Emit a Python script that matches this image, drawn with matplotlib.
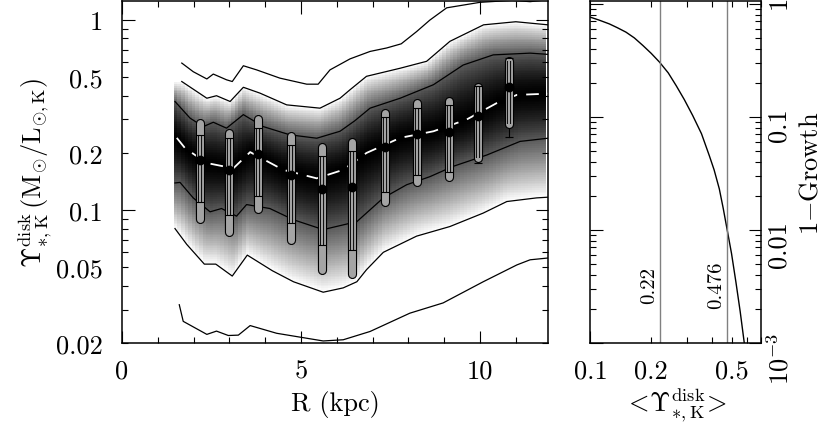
import numpy as np
import matplotlib.pyplot as plt
from matplotlib.ticker import FixedLocator, FuncFormatter, NullFormatter

plt.rcParams['font.family'] = 'serif'
plt.rcParams['font.serif'] = ['cmr10']
plt.rcParams['mathtext.fontset'] = 'cm'
plt.rcParams['axes.unicode_minus'] = False
plt.rcParams['axes.formatter.use_mathtext'] = True

# ---- contour curves of the M/L distribution vs radius
r_u3 = [1.67, 1.99, 2.37, 2.55, 2.92, 3.08, 3.39, 3.76, 4.41, 5.16, 5.48, 5.81, 6.37, 6.93,
        7.39, 7.8, 8.23, 8.6, 9.07, 10.0, 10.9, 11.4, 11.9]
u3 = [0.594, 0.535, 0.49, 0.52, 0.485, 0.475, 0.575, 0.547, 0.495, 0.46, 0.46, 0.547, 0.625,
      0.684, 0.713, 0.75, 0.87, 1.0, 1.16, 1.24, 1.27, 1.25, 1.28]

r_u2 = [1.67, 2.37, 2.64, 3.02, 3.39, 3.85, 4.6, 5.53, 6.09, 6.37, 6.83, 7.77, 8.51, 9.16,
        10.1, 11.0, 11.9]
u2 = [0.475, 0.388, 0.40, 0.373, 0.443, 0.413, 0.358, 0.344, 0.388, 0.43, 0.506, 0.558,
      0.607, 0.773, 0.944, 0.98, 0.944]

r_u1 = [1.48, 1.9, 2.27, 2.55, 2.92, 3.39, 3.95, 4.69, 5.44, 6.09, 6.5, 6.93, 7.77, 8.7,
        9.53, 10.37, 11.4, 11.9]
u1 = [0.373, 0.305, 0.275, 0.29, 0.27, 0.318, 0.275, 0.249, 0.239, 0.26, 0.295, 0.344,
      0.388, 0.457, 0.58, 0.656, 0.67, 0.66]

r_med = [1.53, 1.76, 2.37, 3.11, 3.58, 4.5, 5.44, 6.18, 6.83, 7.77, 8.7, 9.63, 10.47,
         11.03, 11.9]
med = [0.24, 0.212, 0.177, 0.166, 0.202, 0.163, 0.147, 0.163, 0.2, 0.24, 0.26, 0.3,
       0.366, 0.404, 0.41]

r_l1 = [1.48, 1.62, 1.99, 2.46, 2.78, 3.2, 3.48, 4.13, 4.79, 5.62, 6.56, 7.3, 7.95, 8.6,
        9.25, 10.19, 11.12, 11.9]
l1 = [0.139, 0.14, 0.116, 0.098, 0.102, 0.093, 0.107, 0.102, 0.089, 0.079, 0.087, 0.116,
      0.136, 0.15, 0.17, 0.195, 0.23, 0.239]

r_l2 = [1.48, 1.81, 2.3, 2.62, 3.08, 3.5, 4.2, 4.79, 5.62, 6.18, 6.56, 6.83, 7.3, 8.23,
        9.16, 10.09, 10.75, 11.58, 11.9]
l2 = [0.08, 0.066, 0.052, 0.052, 0.045, 0.058, 0.048, 0.042, 0.037, 0.039, 0.042, 0.0486,
      0.06, 0.073, 0.082, 0.0965, 0.111, 0.116, 0.117]

r_l3 = [1.6, 1.71, 2.37, 2.64, 2.97, 3.25, 3.58, 4.32, 5.62, 6.18, 6.93, 8.04, 8.97,
        10.09, 11.03, 11.4, 11.9]
l3 = [0.0318, 0.026, 0.0222, 0.0231, 0.0219, 0.022, 0.0247, 0.0225, 0.0205, 0.0208, 0.023,
      0.0287, 0.0325, 0.042, 0.0515, 0.0548, 0.056]

# ---- binned points
bar_r = [2.18, 2.99, 3.79, 4.72, 5.58, 6.43, 7.35, 8.24, 9.14, 9.95, 10.82]
bar_mid = [0.184, 0.163, 0.197, 0.153, 0.129, 0.133, 0.216, 0.251, 0.258, 0.311, 0.443]
bar_in_lo = [0.111, 0.0945, 0.118, 0.0855, 0.0658, 0.0614, 0.124, 0.153, 0.158, 0.177, 0.244]
bar_in_hi = [0.249, 0.239, 0.27, 0.221, 0.192, 0.205, 0.308, 0.344, 0.358, 0.448, 0.63]
bar_out_lo = [0.0902, 0.0768, 0.102, 0.0693, 0.0487, 0.0463, 0.110, 0.141, 0.15, 0.187, 0.285]
bar_out_hi = [0.289, 0.256, 0.301, 0.246, 0.215, 0.227, 0.326, 0.368, 0.376, 0.445, 0.61]

# ---- right panel: 1 - growth curve
grow_x = [0.1, 0.11, 0.124, 0.136, 0.150, 0.165, 0.182, 0.20, 0.22, 0.243, 0.266, 0.292,
          0.321, 0.355, 0.388, 0.41, 0.435, 0.455, 0.476, 0.50, 0.526, 0.552, 0.578]
grow_y = [0.762, 0.72, 0.665, 0.615, 0.562, 0.50, 0.428, 0.365, 0.305, 0.245, 0.189, 0.142,
          0.103, 0.071, 0.0455, 0.034, 0.0231, 0.0155, 0.01, 0.0062, 0.00344, 0.0019, 0.00101]
mark_x = [0.22, 0.476]
mark_lbl = ['0.22', '0.476']

fs = 19
fig = plt.figure(figsize=(8.3, 4.27), dpi=100)
ax = fig.add_axes([122/830, 83/427, 426/830, 342/427])
ax2 = fig.add_axes([590/830, 83/427, 171/830, 342/427])

# grey density map built from the contour levels (+-1,2,3 sigma)
curves = [(r_l3, l3), (r_l2, l2), (r_l1, l1), (r_med, med), (r_u1, u1), (r_u2, u2), (r_u3, u3)]
zlev = np.array([-3, -2, -1, 0, 1, 2, 3])
r_edges = np.arange(1.45, 11.95, 0.1)
r_cent = 0.5 * (r_edges[1:] + r_edges[:-1])
ly_edges = np.linspace(np.log10(0.02), np.log10(1.3), 190)
ly_cent = 0.5 * (ly_edges[1:] + ly_edges[:-1])
shade = np.ones((len(ly_cent), len(r_cent)))
for j, rc in enumerate(r_cent):
    knots = [np.interp(rc, rr, np.log10(vv)) for rr, vv in curves]
    z = np.interp(ly_cent, knots, zlev, left=-4, right=4)
    shade[:, j] = np.clip((np.abs(z) / 2.0)**1.5, 0, 1)
ax.pcolormesh(r_edges, 10**ly_edges, shade, cmap='gray', vmin=0, vmax=1, zorder=1)

for rr, vv in curves:
    if vv is med:
        continue
    ax.plot(rr, vv, color='k', lw=0.9, zorder=2)
ax.plot(r_med, med, color='white', lw=1.3, ls=(0, (7, 5)), zorder=3)

grey = '#a4a4a4'
for r, m, a, b, lo, hi in zip(bar_r, bar_mid, bar_in_lo, bar_in_hi, bar_out_lo, bar_out_hi):
    ax.plot([r, r], [a, b], color='k', lw=0.8, zorder=4)
    ax.plot([r, r], [lo, hi], color='k', lw=6.6, solid_capstyle='round', zorder=5)
    ax.plot([r, r], [lo, hi], color=grey, lw=5.0, solid_capstyle='round', zorder=6)
    bl, bh = max(a, lo), min(b, hi)
    ax.plot([r, r], [bl, bh], color='k', lw=3.0, solid_capstyle='butt', zorder=7)
    ax.plot([r, r], [bl, bh], color=grey, lw=1.6, solid_capstyle='butt', zorder=8)
    ax.plot([r, r], [a, b], ls='none', marker='_', ms=6.4, mew=0.8, color='k', zorder=9)
    ax.plot(r, m, 'o', ms=6, color='k', zorder=10)

ax.set_xlim(0, 11.9)
ax.set_yscale('log')
ax.set_ylim(0.02, 1.26)
ax.xaxis.set_major_locator(FixedLocator([0, 5, 10]))
ax.xaxis.set_minor_locator(FixedLocator(range(1, 12)))
ax.set_xticklabels(['0', '5', '10'])
ax.yaxis.set_major_locator(FixedLocator([0.1, 1]))
ax.yaxis.set_minor_locator(FixedLocator([k * 0.01 for k in range(2, 10)] + [k * 0.1 for k in range(2, 10)]))
ax.yaxis.set_major_formatter(FuncFormatter(lambda v, p: '%g' % v))
ax.yaxis.set_minor_formatter(FuncFormatter(lambda v, p: ('%g' % v) if round(v, 3) in (0.02, 0.05, 0.2, 0.5) else ''))
ax.set_xlabel('R (kpc)', fontsize=fs, labelpad=6)
ax.set_ylabel(r'$\Upsilon_{*,\mathrm{K}}^{\mathrm{disk}}\,(\mathrm{M}_{\odot}/\mathrm{L}_{\odot,\mathrm{K}})$',
              fontsize=fs, labelpad=2)

# right panel
ax2.plot(grow_x, grow_y, color='k', lw=1.0)
for mx in mark_x:
    ax2.axvline(mx, color='#808080', lw=1.0)
ax2.text(0.196, 0.0033, mark_lbl[0], rotation=90, ha='center', va='center', fontsize=15)
ax2.text(0.419, 0.0033, mark_lbl[1], rotation=90, ha='center', va='center', fontsize=15)
ax2.set_xscale('log')
ax2.set_yscale('log')
ax2.set_xlim(0.0995, 0.70)
ax2.set_ylim(1e-3, 1.06)
ax2.xaxis.set_major_locator(FixedLocator([0.1]))
ax2.xaxis.set_minor_locator(FixedLocator([0.2, 0.3, 0.4, 0.5, 0.6, 0.7]))
ax2.xaxis.set_major_formatter(FuncFormatter(lambda v, p: '%g' % v))
ax2.xaxis.set_minor_formatter(FuncFormatter(lambda v, p: ('%g' % v) if round(v, 2) in (0.2, 0.5) else ''))
ax2.yaxis.set_major_locator(FixedLocator([1e-3, 1e-2, 1e-1, 1]))
ax2.yaxis.set_minor_locator(FixedLocator([k * 10.0**e for e in (-3, -2, -1) for k in range(2, 10)]))
ax2.yaxis.set_major_formatter(FuncFormatter(lambda v, p: {1e-3: r'$10^{-3}$', 1e-2: '0.01', 1e-1: '0.1', 1: '1'}.get(v, '')))
ax2.yaxis.set_minor_formatter(NullFormatter())
ax2.yaxis.tick_right()
ax2.yaxis.set_label_position('right')
ax2.set_xlabel(r'$<\!\Upsilon_{*,\mathrm{K}}^{\mathrm{disk}}\!>$', fontsize=fs, labelpad=2)
ax2.set_ylabel(r'$\mathrm{1}{-}\mathrm{Growth}$', fontsize=fs, rotation=90, labelpad=4)

for a in (ax, ax2):
    for s in a.spines.values():
        s.set_linewidth(1.1)
    a.tick_params(which='both', direction='in', top=True, bottom=True, left=True, right=True,
                  labelsize=fs, width=0.8)
    a.tick_params(which='major', length=9)
    a.tick_params(which='minor', length=4.5)
ax.tick_params(axis='x', which='both', pad=11)
ax.tick_params(axis='y', which='both', pad=14)
ax2.tick_params(axis='x', which='both', pad=11)
ax2.tick_params(axis='y', which='both', labelleft=False, labelright=True, pad=4, labelrotation=90)

fig.savefig('out.png', dpi=100)
